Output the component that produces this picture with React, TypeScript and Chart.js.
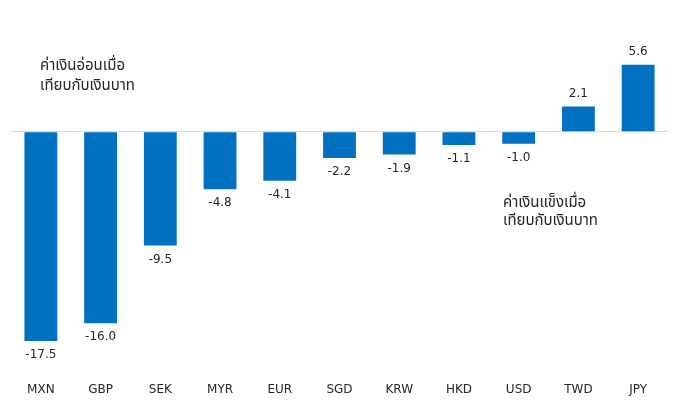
import React, { useEffect, useRef } from "react";
import { Chart, registerables } from "chart.js";

Chart.register(...registerables);

const categories = ["MXN", "GBP", "SEK", "MYR", "EUR", "SGD", "KRW", "HKD", "USD", "TWD", "JPY"];
const values = [-17.5, -16.0, -9.5, -4.8, -4.1, -2.2, -1.9, -1.1, -1.0, 2.1, 5.6];
const weakNote = ["ค่าเงินอ่อนเมื่อ", "เทียบกับเงินบาท"];
const strongNote = ["ค่าเงินแข็งเมื่อ", "เทียบกับเงินบาท"];

const TEXT = "#262626";
const THAI_FONT = "15px Tahoma, 'Noto Sans Thai', 'Noto Sans', sans-serif";

const labelPlugin = {
  id: "valueLabels",
  afterDatasetsDraw(chart: any) {
    const { ctx } = chart;
    const meta = chart.getDatasetMeta(0);
    ctx.save();
    ctx.font = "12px Tahoma, 'DejaVu Sans', sans-serif";
    ctx.fillStyle = TEXT;
    ctx.textAlign = "center";
    ctx.textBaseline = "middle";
    meta.data.forEach((bar: any, i: number) => {
      const v = values[i];
      const y = v >= 0 ? bar.y - 13 : bar.y + 14;
      ctx.fillText(v.toFixed(1), bar.x, y);
    });
    // annotations
    const area = chart.chartArea;
    const zero = chart.scales.y.getPixelForValue(0);
    ctx.font = THAI_FONT;
    ctx.textAlign = "left";
    const ax = area.left + 29;
    weakNote.forEach((t, i) => ctx.fillText(t, ax, zero - 65 + i * 20));
    const bx = area.left + 492;
    strongNote.forEach((t, i) => ctx.fillText(t, bx, zero + 72 + i * 18));
    ctx.restore();
  },
};

export default function App() {
  const ref = useRef<HTMLCanvasElement>(null);
  useEffect(() => {
    if (!ref.current) return;
    const chart = new Chart(ref.current, {
      type: "bar",
      data: {
        labels: categories,
        datasets: [
          {
            data: values,
            backgroundColor: "#0070C0",
            categoryPercentage: 1,
            barPercentage: 0.55,
          },
        ],
      },
      options: {
        animation: false,
        responsive: false,
        devicePixelRatio: 1,
        layout: { padding: { left: 11, right: 14, top: 36, bottom: -5.4 } },
        plugins: { legend: { display: false }, tooltip: { enabled: false } },
        scales: {
          x: {
            grid: { display: false, drawTicks: false },
            border: { display: false },
            ticks: {
              color: TEXT,
              padding: 12,
              font: { family: "Tahoma, 'DejaVu Sans', sans-serif", size: 12 },
            },
          },
          y: {
            min: -20,
            max: 8,
            ticks: { display: false, stepSize: 4 },
            border: { display: false },
            grid: {
              drawTicks: false,
              color: (c: any) => (c.tick && c.tick.value === 0 ? "#d9d9d9" : "rgba(0,0,0,0)"),
            },
          },
        },
      },
      plugins: [labelPlugin],
    });
    return () => chart.destroy();
  }, []);
  return (
    <div style={{ position: "fixed", left: 0, top: 0, width: 682, height: 404, background: "#fff" }}>
      <canvas ref={ref} width={682} height={404} />
    </div>
  );
}
